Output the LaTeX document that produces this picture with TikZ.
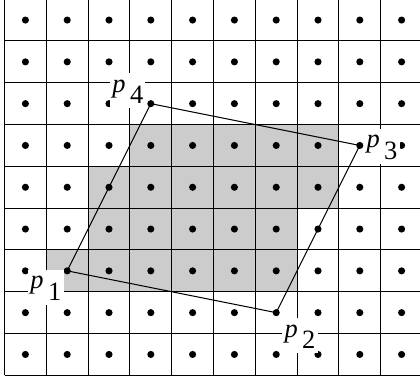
\documentclass[tikz,border=0pt]{standalone}
\usepackage{fontspec}
\setmainfont{Liberation Serif}
\usepackage{tikz}
\usetikzlibrary{positioning}
\definecolor{cellgrey}{RGB}{204,204,204}
\newcommand{\pl}[1]{\textit{p}\hspace{3pt}\raisebox{-8pt}{#1}}

\begin{document}
\begin{tikzpicture}[x=1.0cm, y=1.0cm,
    gridline/.style={black, line width=0.7pt},
    plab/.style={fill=white, inner xsep=1.5pt, inner ysep=2pt, text height=11pt, text depth=9pt, font=\fontsize{18}{20}\selectfont}]
  \useasboundingbox (-0.108,-0.134) rectangle (9.94,8.98);
  \fill[white] (-0.108,-0.134) rectangle (9.94,8.98);
  % cells whose centre lies inside the parallelogram
  \fill[cellgrey] (3,6) -- (8,6) -- (8,4) -- (7,4) -- (7,2) -- (1,2) -- (1,3) -- (2,3) -- (2,5) -- (3,5) -- cycle;
  \begin{scope}
    \clip (-0.108,-0.134) rectangle (9.94,8.98);
    \draw[gridline] (0,0) grid (10,9);
  \end{scope}
  \foreach \i in {0,...,9}
    \foreach \j in {0,...,8}
      \fill (\i+0.5,\j+0.5) circle (0.085);
  % corners
  \coordinate (p1) at (1.5,2.5);
  \coordinate (p2) at (6.5,1.5);
  \coordinate (p3) at (8.5,5.5);
  \coordinate (p4) at (3.5,6.5);
  \draw[line width=0.7pt] (p1) -- (p2) -- (p3) -- (p4) -- cycle;
  \node[plab] (l1) at (0.99,2.11) {\pl{1}};
  \node[plab] (l2) at (7.07,0.95) {\pl{2}};
  \node[plab] (l3) at (9.03,5.48) {\pl{3}};
  \node[plab] (l4) at (2.95,6.81) {\pl{4}};
\end{tikzpicture}
\end{document}
